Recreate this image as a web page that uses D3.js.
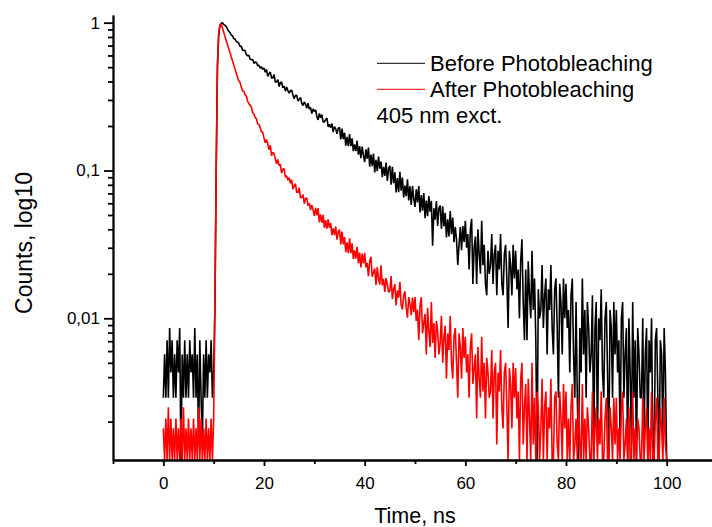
<!DOCTYPE html>
<html>
<head>
<meta charset="utf-8">
<script src="https://cdn.jsdelivr.net/npm/d3@7"></script>
<style>
  body { margin: 0; background: #fff; }
  svg { display: block; }
  text { font-family: Arial, "Liberation Sans", sans-serif; fill: #000; }
</style>
</head>
<body>
<script>
'use strict';

// time channels: first channel and channel width, ns
const timeStart = 0;
const timeStep = 0.25;

// normalised decay, one value per channel (0 = no counts)
const beforeCounts = [
  // 0 - 4.75 ns
  0.0029, 0.0057, 0.0029, 0.0071, 0.0029, 0.0086, 0.0043, 0.0071, 0.0029, 0.0057, 0.0029, 0.0071, 0.0043, 0.0086, 0, 0.0057, 0.0029, 0.0071, 0.0029, 0.0057,
  // 5 - 9.75
  0.0029, 0.0071, 0.0043, 0.0057, 0.0029, 0.0086, 0.0029, 0.0057, 0.0014, 0.0071, 0.0029, 0.0014, 0.0057, 0.0029, 0.0071, 0.0029, 0.0057, 0.0043, 0.0071, 0.0029,
  // 10 - 14.75
  0.0043, 0.012, 0.1, 0.5, 0.83, 0.95, 0.99, 1.0, 0.97, 0.96, 0.94, 0.905, 0.875, 0.855, 0.822, 0.815, 0.78, 0.775, 0.745, 0.738,
  // 15 - 19.75
  0.724, 0.691, 0.693, 0.648, 0.651, 0.647, 0.607, 0.597, 0.602, 0.565, 0.561, 0.564, 0.531, 0.541, 0.538, 0.512, 0.514, 0.492, 0.502, 0.484,
  // 20 - 24.75
  0.493, 0.462, 0.483, 0.433, 0.452, 0.463, 0.421, 0.423, 0.445, 0.396, 0.398, 0.412, 0.369, 0.395, 0.395, 0.363, 0.372, 0.344, 0.367, 0.347,
  // 25 - 29.75
  0.333, 0.347, 0.349, 0.324, 0.306, 0.323, 0.323, 0.295, 0.304, 0.312, 0.285, 0.275, 0.291, 0.281, 0.264, 0.285, 0.260, 0.267, 0.243, 0.261,
  // 30 - 34.75
  0.251, 0.257, 0.232, 0.220, 0.243, 0.227, 0.239, 0.213, 0.213, 0.221, 0.226, 0.197, 0.205, 0.195, 0.208, 0.182, 0.198, 0.192, 0.177, 0.192,
  // 35 - 39.75
  0.196, 0.162, 0.192, 0.163, 0.180, 0.147, 0.169, 0.146, 0.176, 0.146, 0.165, 0.135, 0.150, 0.135, 0.159, 0.128, 0.146, 0.121, 0.145, 0.127,
  // 40 - 44.75
  0.114, 0.139, 0.120, 0.143, 0.106, 0.128, 0.107, 0.130, 0.097, 0.118, 0.099, 0.124, 0.103, 0.115, 0.090, 0.106, 0.092, 0.113, 0.085, 0.103,
  // 45 - 49.75
  0.1076, 0.0803, 0.1060, 0.0820, 0.0971, 0.0711, 0.0889, 0.0714, 0.0978, 0.0731, 0.0896, 0.0656, 0.0791, 0.0671, 0.0871, 0.0627, 0.0783, 0.0584, 0.0786, 0.0643,
  // 50 - 54.75
  0.0567, 0.0745, 0.0608, 0.0784, 0.0520, 0.0683, 0.0535, 0.0703, 0.0476, 0.0627, 0.0490, 0.0672, 0.0526, 0.0624, 0.0310, 0.0556, 0.0464, 0.0622, 0.0422, 0.0555,
  // 55 - 59.75
  0.0579, 0.0403, 0.0573, 0.0419, 0.0518, 0.0353, 0.0468, 0.0358, 0.0531, 0.0371, 0.0481, 0.0327, 0.0415, 0.0339, 0.0230, 0.0314, 0.0415, 0.0289, 0.0421, 0.0328,
  // 60 - 64.75
  0.0457, 0.0300, 0.0371, 0.0214, 0.0400, 0.0471, 0.0171, 0.0300, 0.0357, 0.0171, 0.0400, 0.0271, 0.0200, 0.0457, 0.0229, 0.0314, 0.0171, 0.0143, 0.0286, 0.0200,
  // 65 - 69.75
  0.0229, 0.0371, 0.0171, 0.0271, 0.0314, 0.0143, 0.0286, 0.0214, 0.0371, 0.0171, 0.0143, 0.0271, 0.0314, 0.0186, 0.0086, 0.0286, 0.0229, 0.0143, 0.0314, 0.0186,
  // 70 - 74.75
  0.0286, 0.0157, 0.0214, 0.0100, 0.0243, 0.0343, 0.0129, 0.0071, 0.0214, 0.0071, 0.0243, 0.0143, 0.0100, 0.0286, 0.0114, 0.0186, 0.0071, 0, 0.0157, 0.0100,
  // 75 - 79.75
  0.0114, 0.0229, 0.0086, 0.0143, 0.0186, 0.0057, 0.0157, 0.0114, 0.0229, 0.0086, 0.0057, 0.0157, 0.0186, 0.0086, 0.0029, 0.0171, 0.0129, 0.0057, 0.0186, 0.0100,
  // 80 - 84.75
  0.0171, 0.0086, 0.0114, 0.0043, 0.0143, 0.0186, 0.0057, 0.0029, 0.0129, 0.0029, 0, 0.0086, 0.0043, 0.0186, 0.0057, 0.0114, 0.0029, 0.0129, 0.0086, 0.0043,
  // 85 - 89.75
  0.0057, 0.0143, 0, 0.0086, 0.0129, 0.0014, 0.0100, 0.0071, 0.0157, 0.0043, 0.0029, 0.0100, 0.0129, 0.0043, 0, 0.0114, 0.0086, 0.0029, 0.0129, 0.0057,
  // 90 - 94.75
  0.0114, 0.0043, 0.0071, 0.0014, 0.0100, 0.0129, 0.0029, 0.0057, 0.0086, 0, 0.0100, 0.0043, 0.0014, 0.0129, 0.0029, 0.0071, 0, 0.0086, 0.0057, 0.0029,
  // 95 - 100
  0.0029, 0.0100, 0.0014, 0.0057, 0.0086, 0, 0.0071, 0.0043, 0.0100, 0.0014, 0, 0.0071, 0.0086, 0.0029, 0, 0.0071, 0.0057, 0.0014, 0.0086, 0.0043,
  0
];

const afterCounts = [
  // 0 - 4.75 ns
  0.0018, 0.0004, 0.0021, 0.0007, 0.0025, 0, 0.0021, 0.0011, 0.0018, 0.0004, 0.0021, 0.0007, 0.0018, 0, 0.0021, 0.0011, 0.0025, 0.0004, 0.0018, 0.0007,
  // 5 - 9.75
  0.0021, 0.0004, 0.0018, 0.0011, 0.0021, 0, 0.0018, 0.0007, 0.0025, 0.0004, 0.0021, 0.0011, 0.0018, 0, 0.0021, 0.0007, 0.0018, 0.0004, 0.0021, 0.0011,
  // 10 - 14.75
  0.0021, 0.012, 0.1, 0.52, 0.86, 0.97, 0.98, 0.92, 0.86, 0.805, 0.755, 0.71, 0.665, 0.625, 0.585, 0.55, 0.515, 0.485, 0.455, 0.428,
  // 15 - 19.75
  0.405, 0.394, 0.365, 0.345, 0.344, 0.325, 0.318, 0.294, 0.283, 0.276, 0.269, 0.246, 0.241, 0.228, 0.224, 0.206, 0.205, 0.195, 0.182, 0.182,
  // 20 - 24.75
  0.166, 0.154, 0.162, 0.151, 0.138, 0.148, 0.126, 0.133, 0.130, 0.119, 0.111, 0.119, 0.108, 0.110, 0.096, 0.102, 0.103, 0.090, 0.092, 0.086,
  // 25 - 29.75
  0.0895, 0.0819, 0.0864, 0.0746, 0.0788, 0.0813, 0.0710, 0.0710, 0.0764, 0.0652, 0.0659, 0.0686, 0.0596, 0.0646, 0.0652, 0.0579, 0.0598, 0.0539, 0.0585, 0.0541,
  // 30 - 34.75
  0.0494, 0.0559, 0.0497, 0.0556, 0.0446, 0.0505, 0.0443, 0.0501, 0.0408, 0.0462, 0.0404, 0.0467, 0.0409, 0.0440, 0.0365, 0.0406, 0.0366, 0.0418, 0.0340, 0.0385,
  // 35 - 39.75
  0.0397, 0.0316, 0.0386, 0.0316, 0.0355, 0.0280, 0.0327, 0.0276, 0.0347, 0.0276, 0.0321, 0.0252, 0.0288, 0.0253, 0.0305, 0.0236, 0.0278, 0.0221, 0.0274, 0.0235,
  // 40 - 44.75
  0.0277, 0.0221, 0.0237, 0.0193, 0.0243, 0.0261, 0.0191, 0.0204, 0.0217, 0.0168, 0.0222, 0.0185, 0.0169, 0.0228, 0.0167, 0.0185, 0.0151, 0.0187, 0.0170, 0.0150,
  // 45 - 49.75
  0.0153, 0.0193, 0.0135, 0.0158, 0.0170, 0.0122, 0.0154, 0.0138, 0.0176, 0.0123, 0.0115, 0.0143, 0.0152, 0.0118, 0.0101, 0.0139, 0.0125, 0.0105, 0.0138, 0.0110,
  // 50 - 54.75
  0.0139, 0.0096, 0.0114, 0.0071, 0.0121, 0.0139, 0.0079, 0.0093, 0.0107, 0.0057, 0.0118, 0.0082, 0.0064, 0.0129, 0.0068, 0.0093, 0.0054, 0.0096, 0.0082, 0.0057,
  // 55 - 59.75
  0.0068, 0.0104, 0.0050, 0.0075, 0.0089, 0.0039, 0.0079, 0.0061, 0.0104, 0.0050, 0.0039, 0.0075, 0.0086, 0.0050, 0.0029, 0.0079, 0.0064, 0.0039, 0.0086, 0.0054,
  // 60 - 64.75
  0.0075, 0.0043, 0.0057, 0.0029, 0.0064, 0.0079, 0.0036, 0.0046, 0.0057, 0.0021, 0.0064, 0.0039, 0.0029, 0.0075, 0.0032, 0.0050, 0.0021, 0.0054, 0.0043, 0.0029,
  // 65 - 69.75
  0.0032, 0.0061, 0.0021, 0.0043, 0.0050, 0.0014, 0.0043, 0.0032, 0.0061, 0.0025, 0.0018, 0.0043, 0.0050, 0.0025, 0.0011, 0.0046, 0.0036, 0.0018, 0.0050, 0.0029,
  // 70 - 74.75
  0.0046, 0.0021, 0.0032, 0.0011, 0.0039, 0.0050, 0.0014, 0.0025, 0.0036, 0.0007, 0.0039, 0.0021, 0.0011, 0.0050, 0.0014, 0.0029, 0.0007, 0.0032, 0.0025, 0.0011,
  // 75 - 79.75
  0.0018, 0.0039, 0.0011, 0.0025, 0.0032, 0.0004, 0.0025, 0.0018, 0.0039, 0.0011, 0.0007, 0.0029, 0.0032, 0.0014, 0, 0.0032, 0.0021, 0.0007, 0.0036, 0.0018,
  // 80 - 84.75
  0.0032, 0.0011, 0.0021, 0.0004, 0.0025, 0.0036, 0.0007, 0.0014, 0.0021, 0, 0.0029, 0.0014, 0.0007, 0.0036, 0.0011, 0.0021, 0.0004, 0.0025, 0.0018, 0.0007,
  // 85 - 89.75
  0.0011, 0.0032, 0.0004, 0.0018, 0.0025, 0, 0.0021, 0.0014, 0.0032, 0.0007, 0.0004, 0.0021, 0.0029, 0.0011, 0, 0.0025, 0.0018, 0.0007, 0.0029, 0.0014,
  // 90 - 94.75
  0.0029, 0.0011, 0.0018, 0.0004, 0.0025, 0.0032, 0.0007, 0.0014, 0.0021, 0, 0.0025, 0.0011, 0.0007, 0.0032, 0.0007, 0.0018, 0.0004, 0.0021, 0.0018, 0.0007,
  // 95 - 100
  0.0011, 0.0029, 0.0004, 0.0018, 0.0025, 0, 0.0018, 0.0011, 0.0032, 0.0007, 0.0004, 0.0021, 0.0029, 0.0011, 0, 0.0025, 0.0018, 0.0007, 0.0029, 0.0014,
  0
];

const seriesNames = ["Before Photobleaching", "After Photobleaching"];
const seriesColors = ["#000000", "#ff0000"];
const noteText = "405 nm exct.";

const xMajorTicks = [0, 20, 40, 60, 80, 100];
const xMinorTicks = [-10, 10, 30, 50, 70, 90, 110];
const yMajorTicks = [1, 0.1, 0.01];
const yTickLabels = ["1", "0,1", "0,01"];
const xTitle = "Time, ns";
const yTitle = "Counts, log10";

const width = 712, height = 527;
const svg = d3.select("body").append("svg")
    .attr("width", width)
    .attr("height", height);

// scales
const x = d3.scaleLinear().domain([-10, 110]).range([113, 717]);
const y = d3.scaleLog().domain([0.0011, 1.127]).range([460, 15]).clamp(true);

// minor log ticks 2..9 in every decade that is on the axis
let yMinorTicks = [];
[0.001, 0.01, 0.1].forEach(function(dec) {
    for (let k = 2; k <= 9; k++) {
        let v = dec * k;
        if (v >= y.domain()[0] && v <= y.domain()[1]) yMinorTicks.push(v);
    }
});

// decay curves, black first so red lies on top
const line = d3.line()
    .x(function(d, i) { return x(timeStart + i * timeStep); })
    .y(function(d) { return y(d); });

[beforeCounts, afterCounts].forEach(function(series, s) {
    svg.append("path")
        .datum(series)
        .attr("fill", "none")
        .attr("stroke", seriesColors[s])
        .attr("stroke-width", 1.6)
        .attr("stroke-linejoin", "bevel")
        .attr("d", line);
});

// x axis: minor then major ticks
svg.append("g")
    .attr("class", "axis")
    .attr("transform", "translate(0,460)")
    .call(d3.axisBottom(x).tickValues(xMinorTicks).tickSize(4).tickSizeOuter(0).tickFormat(""));
svg.append("g")
    .attr("class", "axis")
    .attr("transform", "translate(0,460)")
    .call(d3.axisBottom(x).tickValues(xMajorTicks).tickSize(6).tickSizeOuter(0).tickPadding(11))
    .selectAll("text")
    .style("font-size", "17px");

// y axis
svg.append("g")
    .attr("class", "axis")
    .attr("transform", "translate(113,0)")
    .call(d3.axisLeft(y).tickValues(yMinorTicks).tickSize(5).tickSizeOuter(0).tickFormat(""));
svg.append("g")
    .attr("class", "axis")
    .attr("transform", "translate(113,0)")
    .call(d3.axisLeft(y).tickValues(yMajorTicks).tickSize(9).tickSizeOuter(0).tickPadding(4)
        .tickFormat(function(d, i) { return yTickLabels[i]; }))
    .selectAll("text")
    .style("font-size", "17px");

svg.selectAll(".axis path, .axis line")
    .attr("stroke", "#000")
    .attr("stroke-width", 1.8);
svg.selectAll(".axis text").attr("fill", "#000")
    .style("font-family", "Arial, 'Liberation Sans', sans-serif");

// axis titles
svg.append("text")
    .attr("x", 415)
    .attr("y", 523)
    .attr("text-anchor", "middle")
    .style("font-size", "21.5px")
    .text(xTitle);
svg.append("text")
    .attr("transform", "translate(32,243) rotate(-90)")
    .attr("text-anchor", "middle")
    .style("font-size", "23px")
    .text(yTitle);

// legend
seriesNames.forEach(function(name, i) {
    let ly = 63.3 + i * 26;
    svg.append("line")
        .attr("x1", 377).attr("x2", 425)
        .attr("y1", ly).attr("y2", ly)
        .attr("stroke", seriesColors[i])
        .attr("stroke-width", 1);
    svg.append("text")
        .attr("x", 430)
        .attr("y", ly + 7.5)
        .style("font-size", "22px")
        .text(name);
});
svg.append("text")
    .attr("x", 376.5)
    .attr("y", 123)
    .style("font-size", "22px")
    .text(noteText);
</script>
</body>
</html>
